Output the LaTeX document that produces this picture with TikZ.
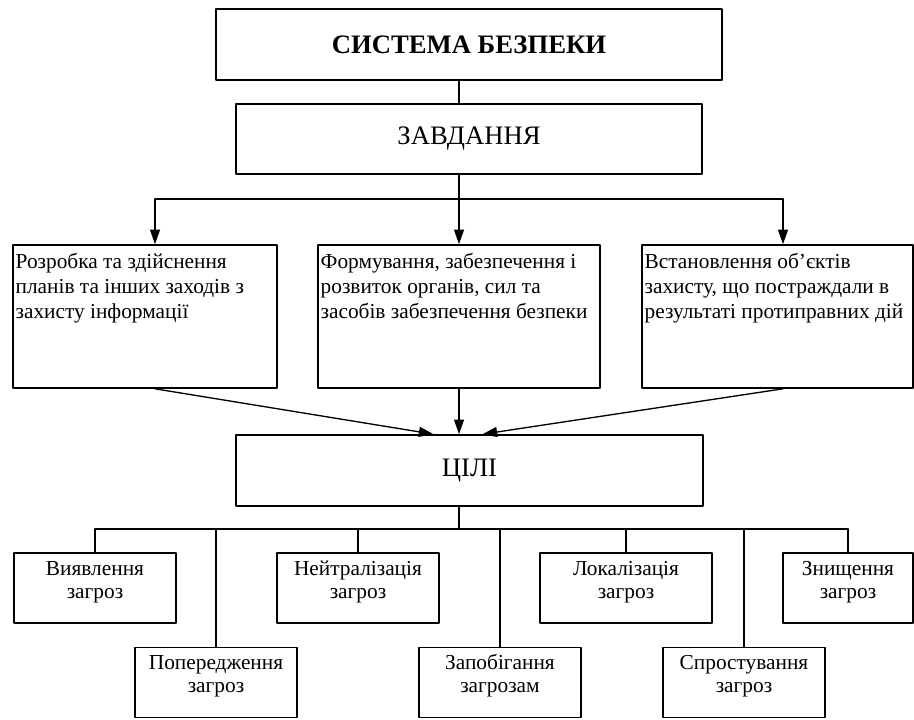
\documentclass[tikz,border=0pt]{standalone}
\usepackage{fontspec}
\setmainfont{Liberation Serif}
\usepackage{tikz}
\usetikzlibrary{calc,arrows.meta}

\newcommand{\taskbody}[2]{\parbox[t][103.25pt][t]{#1}{\fontsize{16}{18.5}\selectfont\rule{0pt}{16pt}#2}}
\newcommand{\goalbody}[2]{\parbox[t][48.5pt][t]{#1}{\centering\fontsize{16}{17.5}\selectfont\rule{0pt}{14.5pt}#2}}

\begin{document}
\begin{tikzpicture}[x=0.75pt, y=-0.75pt, line cap=round, line join=round,
    box/.style={draw, line width=1.2pt, inner sep=2pt},
    arr/.style={-{Triangle[length=11pt,width=7.5pt]}, line width=1pt},
    link/.style={line width=1.1pt}]
    \useasboundingbox (0,0) rectangle (914,720);

    % --- top level ---
    \node[box, minimum width=379.5pt, minimum height=53.25pt] (sys) at (469,44.5)
      {\fontsize{20}{24}\selectfont\bfseries СИСТЕМА БЕЗПЕКИ};
    \node[box, minimum width=349.5pt, minimum height=52.5pt] (zavd) at (469,139)
      {\raisebox{2pt}{\fontsize{20}{24}\selectfont ЗАВДАННЯ}};

    % --- tasks ---
    \node[box] (t1) at (145,316.5)
      {\taskbody{194pt}{Розробка та здійснення\\ планів та інших заходів з\\ захисту інформації}};
    \node[box] (t2) at (459,316.5)
      {\taskbody{207.5pt}{Формування, забезпечення і\\ розвиток органів, сил та\\ засобів забезпечення безпеки}};
    \node[box] (t3) at (777.5,316.5)
      {\taskbody{199.25pt}{Встановлення об’єктів\\ захисту, що постраждали в\\ результаті протиправних дій}};

    \node[box, minimum width=350.25pt, minimum height=53.25pt] (goal) at (469.5,470.5)
      {\raisebox{4pt}{\fontsize{20}{24}\selectfont ЦІЛІ}};

    % --- goals, two rows ---
    \node[box] (g1) at (95,588)    {\goalbody{117.5pt}{Виявлення\\ загроз}};
    \node[box] (g2) at (216,682.5) {\goalbody{117.5pt}{Попередження\\ загроз}};
    \node[box] (g3) at (358,588)   {\goalbody{117.5pt}{Нейтралізація\\ загроз}};
    \node[box] (g4) at (500,682.5) {\goalbody{117.5pt}{Запобігання\\ загрозам}};
    \node[box] (g5) at (626,588)   {\goalbody{125pt}{Локалізація\\ загроз}};
    \node[box] (g6) at (744,682.5) {\goalbody{117.5pt}{Спростування\\ загроз}};
    \node[box] (g7) at (848,588)   {\goalbody{93.5pt}{Знищення\\ загроз}};

    % columns and buses
    \coordinate (c1) at (155,0);
    \coordinate (c3) at (783,0);
    \coordinate (bus1) at (459,199);
    \coordinate (bus2) at (459,529);

    \draw[link] (sys.south -| t2) -- (zavd.north -| t2);
    \draw[link] (zavd.south -| t2) -- (bus1);
    \draw[link] (bus1 -| c1) -- (bus1 -| c3);
    \draw[arr] (bus1 -| c1) -- (t1.north -| c1);
    \draw[arr] (bus1) -- (t2.north);
    \draw[arr] (bus1 -| c3) -- (t3.north -| c3);

    \draw[arr] (t1.south -| c1) -- ($(goal.north)+(-36,0)$);
    \draw[arr] (t2.south) -- (goal.north -| t2);
    \draw[arr] (t3.south -| c3) -- ($(goal.north)+(13,0)$);

    \draw[link] (goal.south -| t2) -- (bus2);
    \draw[link] (bus2 -| g1) -- (bus2 -| g7);
    \foreach \g in {g1,g2,g3,g4,g5,g6,g7}{
      \draw[link] (bus2 -| \g) -- (\g.north);
    }
  \end{tikzpicture}
\end{document}
